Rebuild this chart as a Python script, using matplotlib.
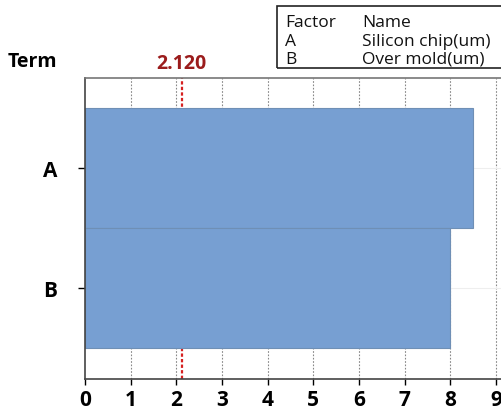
import matplotlib.pyplot as plt
from matplotlib.patches import Rectangle

terms = ['A', 'B']
effects = [8.49, 8.0]
factor_names = ['Silicon chip(um)', 'Over mold(um)']
ref_value = 2.120
xticks = [0, 1, 2, 3, 4, 5, 6, 7, 8, 9]

plt.rcParams['font.family'] = ['Open Sans', 'DejaVu Sans']

fig = plt.figure(figsize=(5.02, 4.10), dpi=100)
ax = fig.add_axes([85 / 502, 30 / 410, 1 - 85 / 502, 301 / 410])

ypos = [1, 0]
ax.barh(ypos, effects, height=1.0, color='#779fd2', edgecolor='#6f8fb5', linewidth=0.8, zorder=2)
ax.set_xlim(0, 9.13)
ax.set_ylim(-0.76, 1.75)

for x in xticks[1:]:
    ax.axvline(x, color='#888888', linestyle=(0, (1.5, 1.5)), linewidth=0.8, zorder=1)
for y in ypos:
    ax.axhline(y, color='#eeeeee', linewidth=0.8, zorder=1)
ax.axvline(ref_value, color='#d62020', linestyle=(0, (1.5, 1)), linewidth=1.6, zorder=1.5)
ax.text(ref_value, 1.79, '%.3f' % ref_value, color='#9b1c1c', fontsize=14, fontweight='bold',
        ha='center', va='bottom')

ax.set_xticks(xticks)
ax.set_yticks(ypos)
ax.set_yticklabels(terms)
ax.tick_params(axis='x', labelsize=15, length=4, width=1, pad=3)
ax.tick_params(axis='y', labelsize=15, length=5, width=1, pad=20)
for lab in ax.get_xticklabels() + ax.get_yticklabels():
    lab.set_fontweight('bold')
for lab in ax.get_yticklabels():
    lab.set_horizontalalignment('center')

ax.spines['right'].set_visible(False)
ax.spines['top'].set_color('#777777')
ax.spines['left'].set_color('#444444')
ax.spines['bottom'].set_color('#444444')
for s in ['top', 'left', 'bottom']:
    ax.spines[s].set_linewidth(1.2)

fig.text(8 / 502, 1 - 62 / 410, 'Term', fontsize=14, fontweight='bold', va='center', ha='left')

# factor table box
fig.patches.append(Rectangle((277 / 502, 1 - 69 / 410), 230 / 502, 62 / 410,
                             transform=fig.transFigure, fill=False, edgecolor='#222222', linewidth=1.2))
rows = [('Factor', 'Name')] + list(zip(terms, factor_names))
for i, (a, b) in enumerate(rows):
    yy = 1 - (23 + 18.5 * i) / 410
    fig.text(285 / 502, yy, a, fontsize=12.5, va='center', ha='left', color='#111111')
    fig.text(362 / 502, yy, b, fontsize=12.5, va='center', ha='left', color='#111111')

fig.savefig('out.png', dpi=100)
